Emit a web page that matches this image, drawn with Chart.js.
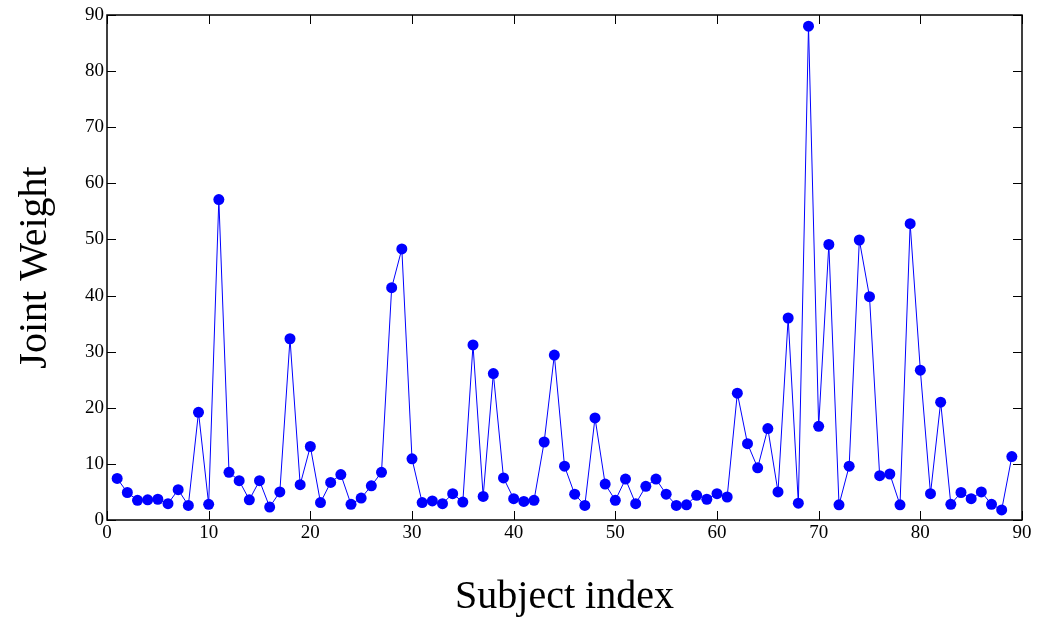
<!DOCTYPE html>
<html>
<head>
<meta charset="utf-8">
<script src="https://cdn.jsdelivr.net/npm/chart.js@4/dist/chart.umd.min.js"></script>
<style>
  html, body { margin: 0; padding: 0; background: #fff; }
  #wrap { width: 1038px; height: 621px; }
</style>
</head>
<body>
<div id="wrap"><canvas id="chart" width="1038" height="621"></canvas></div>
<script>
// subject index 1..89 and its joint weight
const subjects = [];
for (let i = 1; i <= 89; i++) subjects.push(i);

const weights = [
  7.4, 4.9, 3.5, 3.6, 3.7, 2.9, 5.4, 2.6, 19.2, 2.8,
  57.1, 8.5, 7.0, 3.6, 7.0, 2.3, 5.0, 32.3, 6.3, 13.1,
  3.1, 6.7, 8.1, 2.8, 3.9, 6.1, 8.5, 41.4, 48.3, 10.9,
  3.1, 3.4, 2.9, 4.7, 3.2, 31.2, 4.2, 26.1, 7.5, 3.8,
  3.3, 3.5, 13.9, 29.4, 9.6, 4.6, 2.6, 18.2, 6.4, 3.5,
  7.3, 2.9, 6.0, 7.3, 4.6, 2.6, 2.7, 4.4, 3.7, 4.7,
  4.1, 22.6, 13.6, 9.3, 16.3, 5.0, 36.0, 3.0, 88.0, 16.7,
  49.1, 2.7, 9.6, 49.9, 39.8, 7.9, 8.2, 2.7, 52.8, 26.7,
  4.7, 21.0, 2.8, 4.9, 3.8, 5.0, 2.8, 1.8, 11.3
];

const xTicks = [0, 10, 20, 30, 40, 50, 60, 70, 80, 90];
const yTicks = [0, 10, 20, 30, 40, 50, 60, 70, 80, 90];

const serif = "'Liberation Serif', 'DejaVu Serif', serif";

// frame plus inward ticks on all four sides
const frameTicks = {
  id: 'frameTicks',
  afterDraw(chart) {
    const { ctx, chartArea: a, scales } = chart;
    const len = 9;
    ctx.save();
    ctx.strokeStyle = '#000';
    ctx.lineWidth = 1;
    ctx.beginPath();
    xTicks.forEach(v => {
      const px = Math.round(scales.x.getPixelForValue(v)) + 0.5;
      ctx.moveTo(px, a.bottom); ctx.lineTo(px, a.bottom - len);
      ctx.moveTo(px, a.top); ctx.lineTo(px, a.top + len);
    });
    yTicks.forEach(v => {
      const py = Math.round(scales.y.getPixelForValue(v)) + 0.5;
      ctx.moveTo(a.left, py); ctx.lineTo(a.left + len, py);
      ctx.moveTo(a.right, py); ctx.lineTo(a.right - len, py);
    });
    ctx.stroke();
    ctx.lineWidth = 1.5;
    ctx.strokeRect(a.left, a.top, a.right - a.left, a.bottom - a.top);
    ctx.restore();
  }
};

new Chart(document.getElementById('chart'), {
  type: 'line',
  data: {
    datasets: [{
      data: subjects.map((s, i) => ({ x: s, y: weights[i] })),
      borderColor: '#0000ff',
      backgroundColor: '#0000ff',
      borderWidth: 1,
      pointRadius: 5.5,
      pointBorderWidth: 0,
      pointHoverRadius: 5.5,
      tension: 0,
      fill: false,
      clip: false
    }]
  },
  options: {
    responsive: false,
    animation: false,
    layout: { padding: { left: 0, right: 16, top: 15, bottom: 0 } },
    plugins: { legend: { display: false }, tooltip: { enabled: false } },
    scales: {
      x: {
        type: 'linear',
        min: 0, max: 90,
        afterBuildTicks: s => { s.ticks = xTicks.map(v => ({ value: v })); },
        afterFit: s => { s.height = 101; },
        grid: { display: false, drawTicks: false },
        border: { display: false },
        ticks: { color: '#000', padding: 2, maxRotation: 0, font: { family: serif, size: 19 } },
        title: {
          display: true, text: 'Subject index', color: '#000',
          padding: { top: 0, bottom: 0 },
          font: { family: serif, size: 40 }
        }
      },
      y: {
        min: 0, max: 90,
        afterBuildTicks: s => { s.ticks = yTicks.map(v => ({ value: v })); },
        afterFit: s => { s.width = 107; },
        grid: { display: false, drawTicks: false },
        border: { display: false },
        ticks: { color: '#000', padding: 3, font: { family: serif, size: 19 } },
        title: {
          display: true, text: 'Joint Weight', color: '#000',
          padding: { top: 11, bottom: 0 },
          font: { family: serif, size: 40 }
        }
      }
    }
  },
  plugins: [frameTicks]
});
</script>
</body>
</html>
